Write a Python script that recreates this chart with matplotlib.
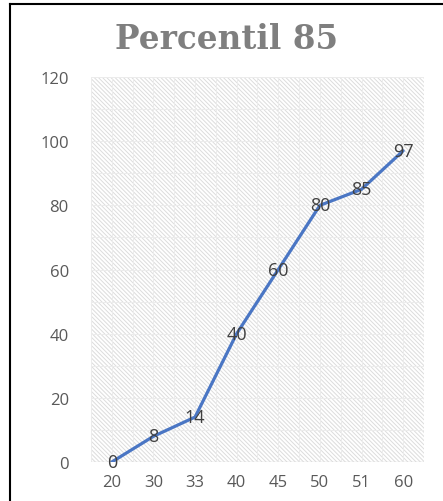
import matplotlib
matplotlib.use("Agg")
import matplotlib.pyplot as plt
from matplotlib.patches import Rectangle
from matplotlib.lines import Line2D
import numpy as np

categories = ["20", "30", "33", "40", "45", "50", "51", "60"]
values = [0, 8, 14, 40, 60, 80, 85, 97]
yticks = [0, 20, 40, 60, 80, 100, 120]
title = "Percentil 85"

plt.rcParams['font.family'] = ['Open Sans', 'DejaVu Sans']
plt.rcParams['hatch.linewidth'] = 0.7
plt.rcParams['hatch.color'] = '#dcdcdc'
fig = plt.figure(figsize=(4.43, 5.02), dpi=100)
ax = fig.add_axes([0.2054, 0.0777, 0.7516, 0.7669])

x = np.arange(len(categories))
ax.set_xlim(-0.5, len(categories) - 0.5)
ax.set_ylim(0, 120)

# hatched background
bg = Rectangle((0, 0), 1, 1, transform=ax.transAxes, facecolor='white',
               edgecolor='#dcdcdc', hatch='\\' * 8, linewidth=0, zorder=0)
ax.add_patch(bg)

for yv in np.arange(10, 121, 10):
    ax.axhline(yv, color='#ececec', lw=0.7, zorder=0.5)
for xv in np.arange(-0.5, len(categories), 0.5):
    ax.axvline(xv, color='#ececec', lw=0.7, zorder=0.5)
ax.axhline(0, color='#d9d9d9', lw=1.0, zorder=1)

ax.plot(x, values, color='#4a76c4', lw=2.3, zorder=3, solid_capstyle='round')
for xi, v in zip(x, values):
    ax.text(xi, v, str(v), ha='center', va='center', fontsize=13,
            color='#404040', zorder=4)

ax.set_xticks(x)
ax.set_xticklabels(categories)
ax.set_yticks(yticks)
ax.tick_params(axis='both', length=0, labelsize=12, labelcolor='#595959')
ax.tick_params(axis='x', pad=9)
ax.tick_params(axis='y', pad=16)
for s in ax.spines.values():
    s.set_visible(False)

fig.text(0.512, 0.921, title, ha='center', va='center', fontsize=23.5,
         fontweight='bold', color='#7f7f7f', family=['DejaVu Serif'])

# chart border (top and left)
fig.add_artist(Line2D([0.023, 1.0], [0.99, 0.99], transform=fig.transFigure,
                      color='black', lw=1.5))
fig.add_artist(Line2D([0.023, 0.023], [0.0, 0.99], transform=fig.transFigure,
                      color='black', lw=1.5))

fig.savefig("out.png", dpi=100)
